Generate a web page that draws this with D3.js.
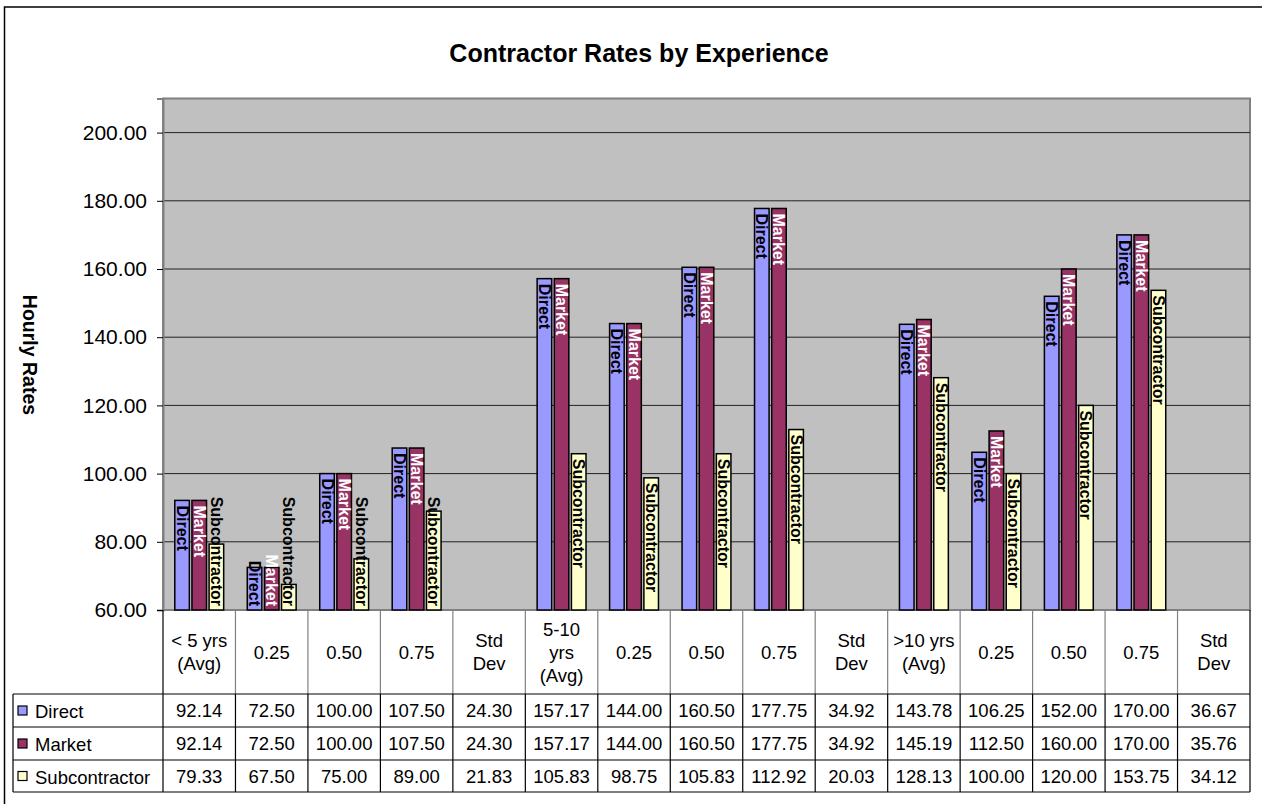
<!DOCTYPE html>
<html>
<head>
<meta charset="utf-8">
<script src="https://cdn.jsdelivr.net/npm/d3@7"></script>
<style>
  body { margin: 0; background: #fff; }
  svg { display: block; font-family: "Liberation Sans", Arial, sans-serif; }
</style>
</head>
<body>
<div id="chart"></div>
<script>
// Data
const categories = ["< 5 yrs (Avg)", "0.25", "0.50", "0.75", "Std Dev",
                    "5-10 yrs (Avg)", "0.25", "0.50", "0.75", "Std Dev",
                    ">10 yrs (Avg)", "0.25", "0.50", "0.75", "Std Dev"];
// header lines as shown in the table cells
const headerLines = [["< 5 yrs", "(Avg)"], ["0.25"], ["0.50"], ["0.75"], ["Std", "Dev"],
                     ["5-10", "yrs", "(Avg)"], ["0.25"], ["0.50"], ["0.75"], ["Std", "Dev"],
                     [">10 yrs", "(Avg)"], ["0.25"], ["0.50"], ["0.75"], ["Std", "Dev"]];
const seriesNames = ["Direct", "Market", "Subcontractor"];
const direct = [92.14, 72.50, 100.00, 107.50, 24.30, 157.17, 144.00, 160.50, 177.75, 34.92, 143.78, 106.25, 152.00, 170.00, 36.67];
const market = [92.14, 72.50, 100.00, 107.50, 24.30, 157.17, 144.00, 160.50, 177.75, 34.92, 145.19, 112.50, 160.00, 170.00, 35.76];
const subcontractor = [79.33, 67.50, 75.00, 89.00, 21.83, 105.83, 98.75, 105.83, 112.92, 20.03, 128.13, 100.00, 120.00, 153.75, 34.12];
const yTicks = [60, 80, 100, 120, 140, 160, 180, 200];

const seriesValues = [direct, market, subcontractor];
const colors = { Direct: "#9999FF", Market: "#993366", Subcontractor: "#FFFFCC" };
const labelColors = { Direct: "#000", Market: "#fff", Subcontractor: "#000" };

const W = 1262, H = 804;
const plot = { left: 163, top: 98.5, right: 1250, bottom: 610 };
const rows = [694, 727, 760, 792];

const svg = d3.select("#chart").append("svg")
  .attr("width", W).attr("height", H);

// chart border (runs off the right and bottom edges)
svg.append("rect")
  .attr("x", 4.5).attr("y", 7).attr("width", 1400).attr("height", 1000)
  .attr("fill", "#fff").attr("stroke", "#000").attr("stroke-width", 1.5);

// scales
const x0 = d3.scaleBand().domain(d3.range(categories.length))
  .range([plot.left, plot.right]).paddingInner(0).paddingOuter(0);
const groupPad = 11.8;
const x1 = d3.scaleBand().domain(seriesNames)
  .range([groupPad, x0.bandwidth() - groupPad]).paddingInner(0.15);
const y = d3.scaleLinear().domain([60, 210]).range([plot.bottom, plot.top]);

// plot area
svg.append("rect")
  .attr("x", plot.left).attr("y", plot.top)
  .attr("width", plot.right - plot.left).attr("height", plot.bottom - plot.top)
  .attr("fill", "#C0C0C0").attr("stroke", "#808080").attr("stroke-width", 2);

// gridlines
svg.append("g").selectAll("line").data(yTicks.filter(t => t > 60)).join("line")
  .attr("x1", plot.left).attr("x2", plot.right)
  .attr("y1", d => y(d)).attr("y2", d => y(d))
  .attr("stroke", "#222").attr("stroke-width", 1);

// y axis
const yAxis = svg.append("g")
  .attr("transform", `translate(${plot.left},0)`)
  .call(d3.axisLeft(y).tickValues(yTicks).tickFormat(d3.format(".2f")).tickSize(6).tickPadding(10));
yAxis.select(".domain").attr("stroke", "#808080").attr("stroke-width", 2);
yAxis.selectAll(".tick line").attr("stroke", "#000");
yAxis.selectAll(".tick text")
  .attr("font-size", 21).attr("fill", "#000")
  .attr("font-family", "Liberation Sans, Arial, sans-serif");

// axis title
svg.append("text")
  .attr("transform", "translate(30,355) rotate(90)")
  .attr("text-anchor", "middle").attr("dominant-baseline", "central")
  .attr("font-size", 19.5).attr("font-weight", "bold")
  .text("Hourly Rates");

// title
svg.append("text")
  .attr("x", 639).attr("y", 53)
  .attr("text-anchor", "middle").attr("dominant-baseline", "central")
  .attr("font-size", 25).attr("font-weight", "bold")
  .text("Contractor Rates by Experience");

// bars
const barData = [];
categories.forEach((c, i) => {
  seriesNames.forEach((s, j) => {
    barData.push({ i, s, v: seriesValues[j][i] });
  });
});
const visible = barData.filter(d => d.v > 60);

const bars = svg.append("g");
bars.selectAll("rect").data(visible).join("rect")
  .attr("x", d => x0(d.i) + x1(d.s))
  .attr("y", d => y(d.v))
  .attr("width", x1.bandwidth())
  .attr("height", d => y(60) - y(d.v))
  .attr("fill", d => colors[d.s])
  .attr("stroke", "#000").attr("stroke-width", 1.5);

// rotated series-name labels at the top of each bar
bars.selectAll("text").data(visible).join("text")
  .attr("font-size", 16).attr("font-weight", "bold")
  .attr("fill", d => labelColors[d.s])
  .attr("dominant-baseline", "central")
  .text(d => d.s)
  .each(function (d) {
    const len = this.getComputedTextLength();
    const cx = x0(d.i) + x1(d.s) + x1.bandwidth() / 2;
    const top = Math.min(y(d.v) + 5, plot.bottom - 4 - len);
    d3.select(this).attr("transform", `translate(${cx},${top}) rotate(90)`);
  });

// data table
const table = svg.append("g");
// header column separators (gray)
table.selectAll("line.hsep").data(d3.range(categories.length + 1)).join("line")
  .attr("class", "hsep")
  .attr("x1", i => i < categories.length ? x0(i) : plot.right)
  .attr("x2", i => i < categories.length ? x0(i) : plot.right)
  .attr("y1", plot.bottom).attr("y2", rows[0])
  .attr("stroke", i => (i === 0 || i === categories.length) ? "#000" : "#808080")
  .attr("stroke-width", 1.2);
// data column separators (black)
table.selectAll("line.dsep").data(d3.range(categories.length + 1)).join("line")
  .attr("class", "dsep")
  .attr("x1", i => i < categories.length ? x0(i) : plot.right)
  .attr("x2", i => i < categories.length ? x0(i) : plot.right)
  .attr("y1", rows[0]).attr("y2", rows[3])
  .attr("stroke", "#000").attr("stroke-width", 1.2);
// row lines
table.selectAll("line.row").data(rows).join("line")
  .attr("class", "row")
  .attr("x1", 13).attr("x2", plot.right)
  .attr("y1", d => d).attr("y2", d => d)
  .attr("stroke", "#000").attr("stroke-width", 1.2);
table.append("line")
  .attr("x1", 13).attr("x2", 13).attr("y1", rows[0]).attr("y2", rows[3])
  .attr("stroke", "#000").attr("stroke-width", 1.2);

// header text
const headerMid = (plot.bottom + rows[0]) / 2;
headerLines.forEach((lines, i) => {
  const t = table.append("text")
    .attr("text-anchor", "middle").attr("font-size", 18.5)
    .attr("x", x0(i) + x0.bandwidth() / 2);
  lines.forEach((ln, k) => {
    t.append("tspan")
      .attr("x", x0(i) + x0.bandwidth() / 2)
      .attr("y", headerMid + (k - (lines.length - 1) / 2) * 23)
      .attr("dominant-baseline", "central")
      .text(ln);
  });
});

// legend + values
seriesNames.forEach((s, j) => {
  const cy = (rows[j] + rows[j + 1]) / 2;
  table.append("rect")
    .attr("x", 18).attr("y", cy - 4.5).attr("width", 9).attr("height", 9)
    .attr("fill", colors[s]).attr("stroke", "#000").attr("stroke-width", 1.2);
  table.append("text")
    .attr("x", 35).attr("y", cy + 1).attr("dominant-baseline", "central")
    .attr("font-size", 18.5).text(s);
  table.append("g").selectAll("text").data(seriesValues[j]).join("text")
    .attr("x", (d, i) => x0(i) + x0.bandwidth() / 2)
    .attr("y", cy)
    .attr("text-anchor", "middle").attr("dominant-baseline", "central")
    .attr("font-size", 18.5)
    .text(d => d3.format(".2f")(d));
});
</script>
</body>
</html>
